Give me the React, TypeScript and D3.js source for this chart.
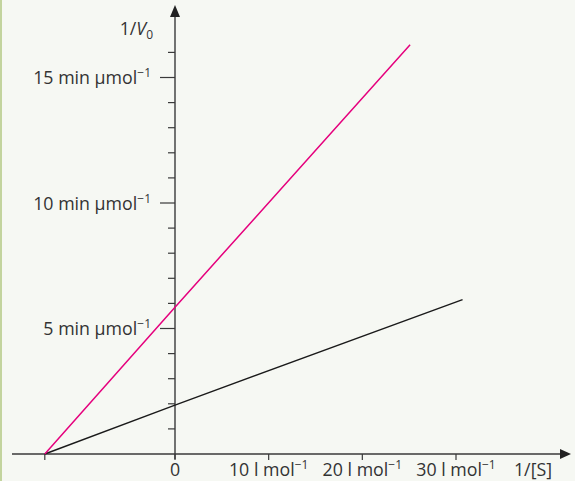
import React, { Component } from "react";
import * as d3 from "d3";

// 1/[S] values (l mol^-1) and 1/V0 values (min umol^-1)
const xPoints = [-13.9, 0, 25.1];
const magentaValues = [0, 5.85, 16.3];
const xPointsBlack = [-13.9, 0, 30.7];
const blackValues = [0, 1.95, 6.15];

const xTicks = [-13.9, 0, 10, 20, 30];
const xTickLabels = ["", "0", "10 l mol", "20 l mol", "30 l mol"];
const xTickSup = ["", "", "\u22121", "\u22121", "\u22121"];

const yMinorTicks = [1, 2, 3, 4, 6, 7, 8, 9, 11, 12, 13, 14, 16];
const yMajorTicks = [5, 10, 15];
const yTickLabels = ["5 min \u00b5mol", "10 min \u00b5mol", "15 min \u00b5mol"];

const W = 575,
  H = 481;
const FONT = "'Open Sans', sans-serif";
const FS = 17.8;
const SUP = 12;
const AXIS = "#3a3a3a";

class Chart extends Component {
  svgRef = React.createRef<SVGSVGElement>();

  componentDidMount() {
    this.draw();
  }

  draw() {
    const svg = d3.select(this.svgRef.current);
    svg.selectAll("*").remove();

    const x = d3.scaleLinear().domain([0, 30]).range([175, 456]);
    const y = d3.scaleLinear().domain([0, 15]).range([454, 77.5]);
    const x0 = x(0),
      y0 = y(0);

    svg.append("rect").attr("width", W).attr("height", H).attr("fill", "#f6f8f3");
    svg.append("rect").attr("width", 2).attr("height", H).attr("fill", "#c3d49e");

    // x axis with arrow
    svg
      .append("line")
      .attr("x1", 12)
      .attr("x2", 562)
      .attr("y1", y0)
      .attr("y2", y0)
      .attr("stroke", AXIS)
      .attr("stroke-width", 1.4);
    svg
      .append("path")
      .attr("d", `M571,${y0} L560,${y0 - 5} L560,${y0 + 5} Z`)
      .attr("fill", "#222");

    // y axis with arrow
    svg
      .append("line")
      .attr("x1", x0)
      .attr("x2", x0)
      .attr("y1", y0 + 5)
      .attr("y2", 14)
      .attr("stroke", AXIS)
      .attr("stroke-width", 1.4);
    svg
      .append("path")
      .attr("d", `M${x0},5 L${x0 - 5},17 L${x0 + 5},17 Z`)
      .attr("fill", "#222");

    // x ticks
    svg
      .selectAll(".xtick")
      .data(xTicks)
      .join("line")
      .attr("class", "xtick")
      .attr("x1", (d) => x(d))
      .attr("x2", (d) => x(d))
      .attr("y1", y0)
      .attr("y2", y0 + 6)
      .attr("stroke", AXIS)
      .attr("stroke-width", 1.2);

    const xl = svg
      .selectAll(".xlabel")
      .data(xTicks)
      .join("text")
      .attr("class", "xlabel")
      .attr("x", (d) => x(d))
      .attr("y", 476)
      .attr("text-anchor", "middle")
      .attr("font-family", FONT)
      .attr("font-size", FS)
      .attr("fill", "#333");
    xl.append("tspan").text((d, i) => xTickLabels[i]);
    xl.append("tspan")
      .attr("dy", -7)
      .attr("font-size", SUP)
      .text((d, i) => xTickSup[i]);

    // y ticks
    svg
      .selectAll(".yminor")
      .data(yMinorTicks)
      .join("line")
      .attr("class", "yminor")
      .attr("x1", x0 - 7)
      .attr("x2", x0)
      .attr("y1", (d) => y(d))
      .attr("y2", (d) => y(d))
      .attr("stroke", AXIS)
      .attr("stroke-width", 1.2);
    svg
      .selectAll(".ymajor")
      .data(yMajorTicks)
      .join("line")
      .attr("class", "ymajor")
      .attr("x1", x0 - 15)
      .attr("x2", x0)
      .attr("y1", (d) => y(d))
      .attr("y2", (d) => y(d))
      .attr("stroke", AXIS)
      .attr("stroke-width", 1.2);

    const yl = svg
      .selectAll(".ylabel")
      .data(yMajorTicks)
      .join("text")
      .attr("class", "ylabel")
      .attr("x", x0 - 24)
      .attr("y", (d) => y(d) + 6.5)
      .attr("text-anchor", "end")
      .attr("font-family", FONT)
      .attr("font-size", FS)
      .attr("fill", "#333");
    yl.append("tspan").text((d, i) => yTickLabels[i]);
    yl.append("tspan").attr("dy", -7).attr("font-size", SUP).text("\u22121");

    // axis titles
    const yt = svg
      .append("text")
      .attr("x", 153)
      .attr("y", 35)
      .attr("text-anchor", "end")
      .attr("font-family", FONT)
      .attr("font-size", FS)
      .attr("fill", "#333");
    yt.append("tspan").text("1/");
    yt.append("tspan").attr("font-style", "italic").text("V");
    yt.append("tspan").attr("dy", 4).attr("font-size", SUP).text("0");

    svg
      .append("text")
      .attr("x", 533)
      .attr("y", 476)
      .attr("text-anchor", "middle")
      .attr("font-family", FONT)
      .attr("font-size", FS)
      .attr("fill", "#333")
      .text("1/[S]");

    // lines
    const line = d3
      .line<[number, number]>()
      .x((d) => x(d[0]))
      .y((d) => y(d[1]));

    svg
      .append("path")
      .datum(xPointsBlack.map((v, i) => [v, blackValues[i]] as [number, number]))
      .attr("d", line)
      .attr("fill", "none")
      .attr("stroke", "#1a1a1a")
      .attr("stroke-width", 1.4);

    svg
      .append("path")
      .datum(xPoints.map((v, i) => [v, magentaValues[i]] as [number, number]))
      .attr("d", line)
      .attr("fill", "none")
      .attr("stroke", "#e5007d")
      .attr("stroke-width", 1.5);
  }

  render() {
    return (
      <svg
        ref={this.svgRef}
        width={W}
        height={H}
        style={{ position: "absolute", left: 0, top: 0, display: "block" }}
      />
    );
  }
}

export default function App() {
  return <Chart />;
}
